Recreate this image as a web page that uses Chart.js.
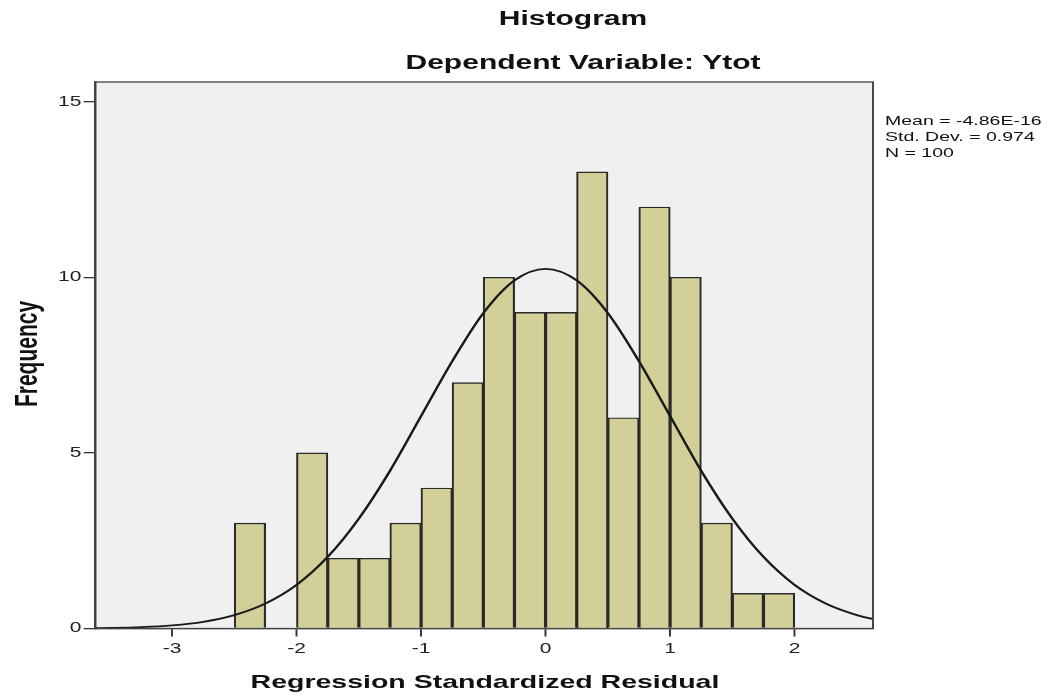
<!DOCTYPE html>
<html>
<head>
<meta charset="utf-8">
<script src="https://cdn.jsdelivr.net/npm/chart.js@4"></script>
<style>
    body { margin: 0; background: #fff; }
    #wrap { width: 1054px; height: 700px; position: relative; }
</style>
</head>
<body>
<div id="wrap"><canvas id="histChart"></canvas></div>
<script>
// bins of width 0.25 (centers) and their frequencies
const binCenters = [-2.375, -2.125, -1.875, -1.625, -1.375, -1.125, -0.875, -0.625, -0.375, -0.125,
                    0.125, 0.375, 0.625, 0.875, 1.125, 1.375, 1.625, 1.875];
const binCounts = [3, 0, 5, 2, 2, 3, 4, 7, 10, 9, 9, 13, 6, 12, 10, 3, 1, 1];

// normal curve
const curveX = [-3.62, -3.5, -3.25, -3, -2.75, -2.5, -2.25, -2, -1.75, -1.5, -1.25, -1, -0.75, -0.5, -0.25,
                0, 0.25, 0.5, 0.75, 1, 1.25, 1.5, 1.75, 2, 2.25, 2.5, 2.63];
const curveY = [0.01, 0.016, 0.04, 0.09, 0.19, 0.38, 0.71, 1.24, 2.04, 3.13, 4.49, 6.05, 7.61, 8.98, 9.91,
                10.24, 9.91, 8.98, 7.61, 6.05, 4.49, 3.13, 2.04, 1.24, 0.71, 0.38, 0.27];

const statLines = ['Mean = -4.86E-16', 'Std. Dev. = 0.974', 'N = 100'];
const chartTitle = 'Histogram';
const chartSubtitle = 'Dependent Variable: Ytot';
const xTitle = 'Regression Standardized Residual';
const yTitle = 'Frequency';

const FONT = "'Liberation Sans', Arial, sans-serif";
const S = 1.5; // the original picture is stretched horizontally

// draw everything stretched, plus plot background, frame and texts
const spssPlugin = {
    id: 'spss',
    beforeDraw(chart) {
        const ctx = chart.ctx, a = chart.chartArea;
        ctx.save();
        ctx.scale(S, 1);
        ctx.fillStyle = '#f0f0f0';
        ctx.fillRect(a.left, a.top, a.right - a.left, a.bottom - a.top);
    },
    afterDraw(chart) {
        const ctx = chart.ctx, a = chart.chartArea;
        ctx.strokeStyle = '#444';
        ctx.lineWidth = 1.3;
        ctx.strokeRect(a.left, a.top, a.right - a.left, a.bottom - a.top);

        ctx.fillStyle = '#111';
        ctx.textAlign = 'center';
        ctx.textBaseline = 'middle';
        ctx.font = 'bold 20px ' + FONT;
        ctx.fillText(chartTitle, 382, 19);
        ctx.fillText(chartSubtitle, 388.7, 63);
        ctx.font = 'bold 19px ' + FONT;
        ctx.fillText(xTitle, 323.3, 683);

        ctx.save();
        ctx.translate(18.7, 354);
        ctx.rotate(-Math.PI / 2);
        ctx.font = 'bold 21px ' + FONT;
        ctx.fillText(yTitle, 0, 0);
        ctx.restore();

        ctx.textAlign = 'left';
        ctx.font = '13px ' + FONT;
        statLines.forEach((t, i) => ctx.fillText(t, 590, 121 + i * 16));

        ctx.restore();
    }
};

const ctx = document.getElementById('histChart').getContext('2d');
new Chart(ctx, {
    type: 'bar',
    data: {
        datasets: [{
            type: 'line',
            data: curveX.map((x, i) => ({ x: x, y: curveY[i] })),
            borderColor: '#1a1a1a',
            borderWidth: 1.8,
            pointRadius: 0,
            cubicInterpolationMode: 'monotone',
            fill: false,
            order: 0
        }, {
            type: 'bar',
            data: binCenters.map((x, i) => ({ x: x, y: binCounts[i] })),
            backgroundColor: '#d3cf98',
            borderColor: '#2a2a2a',
            borderWidth: 1.4,
            barPercentage: 1,
            categoryPercentage: 1,
            order: 1
        }]
    },
    options: {
        responsive: true,
        maintainAspectRatio: false,
        animation: false,
        layout: { padding: { left: 23.3, right: 472, top: 82, bottom: 31.5 } },
        plugins: {
            legend: { display: false },
            tooltip: { enabled: false }
        },
        scales: {
            x: {
                type: 'linear',
                min: -3.62,
                max: 2.63,
                offset: false,
                afterFit: (s) => { s.height = 40; },
                ticks: { stepSize: 1, includeBounds: false, color: '#222', padding: 4, font: { family: FONT, size: 14 } },
                grid: { offset: false, drawOnChartArea: false, tickLength: 8, color: '#333', lineWidth: 1.3 },
                border: { display: true, color: '#333', width: 1.3 }
            },
            y: {
                min: 0,
                max: 15.56,
                afterFit: (s) => { s.width = 40; },
                ticks: { stepSize: 5, includeBounds: false, color: '#222', padding: 1.5, font: { family: FONT, size: 14 } },
                grid: { drawOnChartArea: false, tickLength: 7.5, color: '#333', lineWidth: 1.3 },
                border: { display: true, color: '#333', width: 1.3 }
            }
        }
    },
    plugins: [spssPlugin]
});
</script>
</body>
</html>
